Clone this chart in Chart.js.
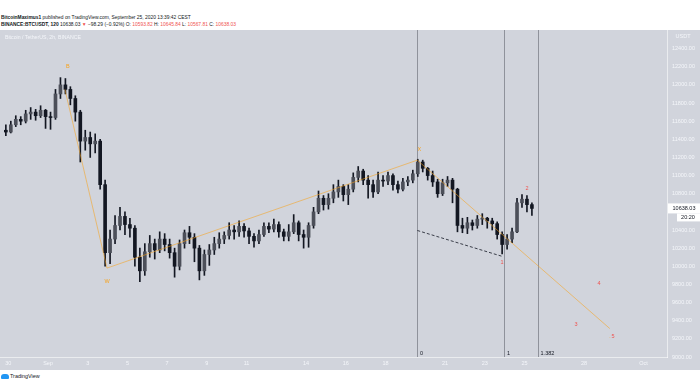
<!DOCTYPE html>
<html>
<head>
<meta charset="utf-8">
<script src="https://cdn.jsdelivr.net/npm/chart.js@4.4.0/dist/chart.umd.min.js"></script>
<style>
  html, body { margin: 0; padding: 0; background: #fff; }
  body { width: 700px; height: 389px; position: relative; overflow: hidden;
         font-family: "Liberation Sans", Arial, sans-serif; }
  .hdr { position: absolute; left: 1px; font-size: 4.9px; color: #131722; white-space: nowrap; }
  .hdr b { font-weight: bold; }
  .red { color: #ef5350; }
  #pane { position: absolute; left: 0; top: 30px; width: 700px; height: 340px; background: #d1d4dc; }
  #title { position: absolute; left: 5px; top: 34px; font-size: 5.2px; color: #f4f6fa; }
  #logo { position: absolute; left: 1px; top: 373px; font-size: 5.4px; color: #131722; }
  #logo span { display: inline-block; width: 8px; height: 5px; background: #2196f3;
               border-radius: 3px 3px 1px 1px; vertical-align: middle; margin-right: 1px; }
</style>
</head>
<body>
<div class="hdr" style="top:15px"><b>BitcoinMaximus1</b> published on TradingView.com, September 25, 2020 13:39:42 CEST</div>
<div class="hdr" style="top:22px"><b>BINANCE:BTCUSDT, 120</b> 10638.03 <span class="red">▼</span> −98.29 (−0.92%) O: <span class="red">10593.82</span> H: <span class="red">10645.84</span> L: <span class="red">10567.81</span> C: <span class="red">10638.03</span></div>
<div id="pane"><canvas id="chart" width="700" height="340"></canvas></div>
<div id="title">Bitcoin / TetherUS, 2h, BINANCE</div>
<div id="logo"><span></span>TradingView</div>
<script>
// ── Data (days counted from Sep 1 00:00, 6h candles) ─────────
const firstCandleDay = -2.25;   // Aug 29 18:00
const candleDays     = 0.25;
const firstOpen      = 11500;

const closes = [
  11480,
  11560, 11620, 11600, 11680,   // Aug 30
  11700, 11660, 11720, 11650,   // Aug 31
  11640, 11900, 12000, 11950,   // Sep 1
  11850, 11700, 11380, 11420,   // Sep 2
  11350, 11380, 10900, 10150,   // Sep 3
  10300, 10450, 10550, 10460,   // Sep 4
  10420, 10100,  9950, 10160,   // Sep 5
  10250, 10180, 10300, 10240,   // Sep 6
  10150, 10000, 10250, 10370,   // Sep 7
  10320, 10200,  9950, 10130,   // Sep 8
  10180, 10250, 10300, 10340,   // Sep 9
  10400, 10380, 10440, 10390,   // Sep 10
  10330, 10280, 10350, 10440,   // Sep 11
  10410, 10460, 10380, 10330,   // Sep 12
  10380, 10480, 10350, 10320,   // Sep 13
  10450, 10600, 10750, 10680,   // Sep 14
  10750, 10820, 10880, 10790,   // Sep 15
  10850, 10980, 11050, 10950,   // Sep 16
  10900, 10820, 10950, 10940,   // Sep 17
  11000, 10900, 10850, 10930,   // Sep 18
  10950, 11020, 11150, 11080,   // Sep 19
  11000, 10930, 10800, 10920,   // Sep 20
  10950, 10850, 10450, 10420,   // Sep 21
  10480, 10450, 10520, 10530,   // Sep 22
  10500, 10470, 10350, 10240,   // Sep 23
  10300, 10380, 10700, 10740,   // Sep 24
  10680, 10638.03               // Sep 25
];
const highs = [
  11560,
  11600, 11660, 11650, 11720,
  11750, 11730, 11770, 11730,
  11700, 11950, 12080, 12070,
  11980, 11880, 11720, 11500,
  11480, 11460, 11400, 10950,
  10400, 10560, 10650, 10600,
  10530, 10450, 10200, 10250,
  10340, 10300, 10380, 10360,
  10300, 10200, 10290, 10400,
  10440, 10360, 10230, 10180,
  10240, 10320, 10370, 10380,
  10480, 10450, 10500, 10470,
  10420, 10360, 10400, 10480,
  10480, 10520, 10490, 10410,
  10460, 10570, 10500, 10400,
  10480, 10650, 10830, 10780,
  10800, 10900, 10950, 10900,
  10900, 11030, 11100, 11070,
  11000, 10950, 11040, 11000,
  11040, 11020, 10940, 10970,
  10990, 11060, 11180, 11170,
  11090, 11050, 10960, 10960,
  10990, 10970, 10860, 10530,
  10540, 10510, 10560, 10580,
  10540, 10530, 10490, 10380,
  10350, 10420, 10750, 10790,
  10780, 10700
];
const lows = [
  11440,
  11470, 11540, 11560, 11580,
  11620, 11610, 11640, 11520,
  11510, 11620, 11850, 11900,
  11780, 11600, 11150, 11280,
  11200, 11250, 10850, 10000,
  10030, 10250, 10400, 10350,
  10320, 10000,  9830,  9900,
  10100, 10080, 10150, 10170,
  10090,  9880,  9960, 10200,
  10250, 10050,  9850,  9900,
  10010, 10130, 10200, 10250,
  10300, 10300, 10330, 10320,
  10250, 10210, 10250, 10330,
  10370, 10380, 10320, 10280,
  10280, 10360, 10280, 10200,
  10210, 10420, 10580, 10620,
  10630, 10700, 10760, 10720,
  10680, 10820, 10930, 10900,
  10750, 10760, 10800, 10880,
  10900, 10840, 10810, 10830,
  10890, 10920, 10990, 11040,
  10950, 10880, 10760, 10780,
  10880, 10700, 10380, 10370,
  10360, 10400, 10420, 10460,
  10420, 10400, 10300, 10136,
  10190, 10260, 10370, 10650,
  10600, 10560
];

// drawings: wave path, dashed trend line, fib time zones, wave labels
const wavePath   = [{ x: 0.85, y: 11950 }, { x: 2.97, y: 9980 }, { x: 18.6, y: 11170 }, { x: 28.3, y: 9313 }];
const dashedLine = [{ x: 18.6, y: 10395 }, { x: 22.9, y: 10108 }];
const fibDays    = [18.59, 22.97, 24.66];
const fibLabels  = ['0', '1', '1.382'];
const orangeMarks = [
  { t: 'B', x: 1.0,  y: 12200 }, { t: 'W', x: 2.98, y: 9830 },
  { t: 'X', x: 18.7, y: 11290 }, { t: '·', x: 28.3, y: 9210 }
];
const redMarks = [
  { t: '1', x: 22.87, y: 10042 }, { t: '2', x: 24.13, y: 10859 },
  { t: '3', x: 26.6,  y: 9357 },  { t: '4', x: 27.76, y: 9810 },
  { t: '5', x: 28.46, y: 9225 }
];

const xTickDays   = [-2, 0, 2, 4, 6, 8, 10, 13, 15, 17, 20, 22, 24, 27, 30];
const xTickLabels = ['30', 'Sep', '3', '5', '7', '9', '11', '14', '16', '18', '21', '23', '25', '28', 'Oct'];
const yTicks = [9000, 9200, 9400, 9600, 9800, 10000, 10200, 10400, 10800, 11000,
                11200, 11400, 11600, 11800, 12000, 12200, 12400];
const lastPrice = 10638.03;

// ── Build candle datasets ────────────────────────────────────
const wicks = [], bodies = [], bodyColors = [];
closes.forEach((c, i) => {
  const open = i === 0 ? firstOpen : closes[i - 1];
  const t = firstCandleDay + i * candleDays + candleDays / 2;
  wicks.push({ x: t, y: [lows[i], highs[i]] });
  bodies.push({ x: t, y: [open, c === open ? c + 5 : c] });
  bodyColors.push(c >= open ? '#4c4f59' : '#131722');
});

const FONT = '"Liberation Sans", Arial, sans-serif';
const txt = (ctx, s, x, y, color, align) => {
  ctx.fillStyle = color; ctx.textAlign = align || 'center'; ctx.textBaseline = 'middle';
  ctx.fillText(s, x, y);
};

const overlay = {
  id: 'overlay',
  beforeDatasetsDraw(chart) {
    const { ctx, chartArea: a, scales: { x } } = chart;
    ctx.save();
    ctx.strokeStyle = '#8f929b'; ctx.lineWidth = 1;
    fibDays.forEach(d => {
      const px = Math.round(x.getPixelForValue(d)) + 0.5;
      ctx.beginPath(); ctx.moveTo(px, a.top); ctx.lineTo(px, a.bottom); ctx.stroke();
    });
    ctx.restore();
  },
  afterDraw(chart) {
    const { ctx, chartArea: a, scales: { x, y } } = chart;
    ctx.save();
    ctx.font = '5.5px ' + FONT;
    fibDays.forEach((d, i) => txt(ctx, fibLabels[i], x.getPixelForValue(d) + 3, a.bottom - 4, '#131722', 'left'));
    orangeMarks.forEach(m => txt(ctx, m.t, x.getPixelForValue(m.x), y.getPixelForValue(m.y), '#f7a21b'));
    redMarks.forEach(m => txt(ctx, m.t, x.getPixelForValue(m.x), y.getPixelForValue(m.y), '#ef5350'));
    txt(ctx, 'USDT', a.right + 16, a.top + 6, '#f4f6fa');
    // last price label
    const py = y.getPixelForValue(lastPrice);
    ctx.fillStyle = '#ffffff';
    ctx.fillRect(a.right + 1, py - 5, 32, 10);
    ctx.fillRect(a.right + 10, py + 5, 23, 8);
    txt(ctx, lastPrice.toFixed(2), a.right + 17, py, '#131722');
    txt(ctx, '20:20', a.right + 21, py + 9, '#131722');
    ctx.restore();
  }
};

new Chart(document.getElementById('chart').getContext('2d'), {
  type: 'bar',
  data: {
    datasets: [
      { type: 'line', data: wavePath, borderColor: 'rgba(247,162,27,0.55)', borderWidth: 1,
        pointRadius: 0, tension: 0, order: 0 },
      { type: 'line', data: dashedLine, borderColor: '#3a3e49', borderWidth: 1, borderDash: [3, 2],
        pointRadius: 0, tension: 0, order: 0 },
      { data: wicks, backgroundColor: '#131722', barThickness: 1, grouped: false, order: 2 },
      { data: bodies, backgroundColor: bodyColors, barThickness: 3, grouped: false, order: 1 }
    ]
  },
  options: {
    responsive: false,
    animation: false,
    layout: { padding: 0 },
    plugins: { legend: { display: false }, tooltip: { enabled: false } },
    scales: {
      x: {
        type: 'linear', min: -2.42, max: 31.18, offset: false,
        grid: { display: false, drawTicks: false },
        border: { color: 'rgba(255,255,255,0.55)' },
        afterBuildTicks: s => { s.ticks = xTickDays.map(v => ({ value: v })); },
        afterFit: s => { s.height = 13; s.paddingLeft = 0; s.paddingRight = 0; },
        ticks: {
          padding: 3, maxRotation: 0, autoSkip: false, color: '#f4f6fa',
          font: { size: 5.5, family: FONT },
          callback: v => xTickLabels[xTickDays.indexOf(v)]
        }
      },
      y: {
        position: 'right', min: 9000, max: 12605,
        grid: { display: false, drawTicks: false },
        border: { color: 'rgba(255,255,255,0.55)' },
        afterBuildTicks: s => { s.ticks = yTicks.map(v => ({ value: v })); },
        afterFit: s => { s.width = 33; s.paddingTop = 0; s.paddingBottom = 0; },
        ticks: {
          padding: 5, color: '#f4f6fa',
          font: { size: 5.5, family: FONT },
          callback: v => v.toFixed(2)
        }
      }
    }
  },
  plugins: [overlay]
});
</script>
</body>
</html>
